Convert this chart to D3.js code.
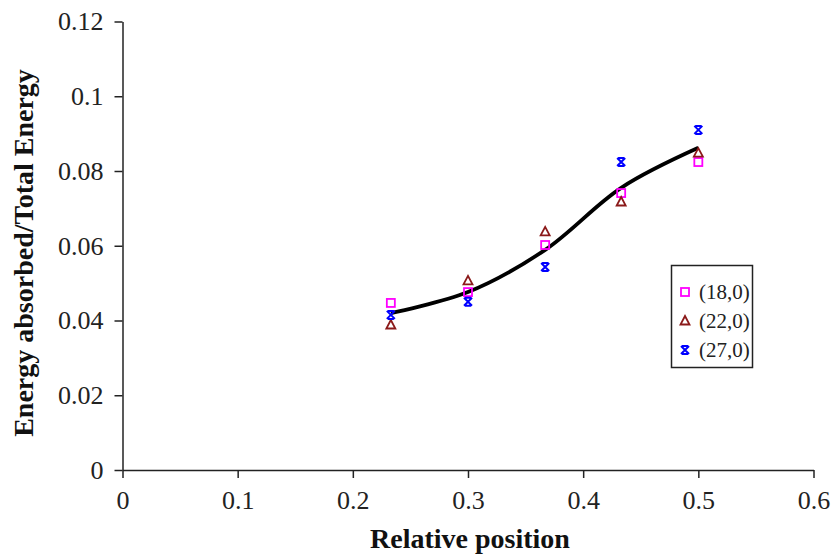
<!DOCTYPE html>
<html><head><meta charset="utf-8">
<script src="https://cdn.jsdelivr.net/npm/d3@7"></script>
<style>body{margin:0;background:#fff}svg{display:block}</style>
</head><body>
<svg id="c" width="835" height="555"></svg>
<script>
const positions = [0.233, 0.3, 0.367, 0.433, 0.5];
const s18 = [0.0447, 0.0476, 0.0602, 0.0741, 0.0824];
const s22 = [0.0388, 0.0506, 0.0637, 0.0717, 0.0848];
const s27 = [0.0415, 0.0450, 0.0543, 0.0824, 0.0910];
const trend = [0.0420, 0.0476, 0.0589, 0.0755, 0.0862];
const xTicks = [0, 0.1, 0.2, 0.3, 0.4, 0.5, 0.6];
const yTicks = [0, 0.02, 0.04, 0.06, 0.08, 0.1, 0.12];
const seriesNames = ["(18,0)", "(22,0)", "(27,0)"];
const seriesColors = ["#ff00ff", "#8b1a1a", "#0000ff"];

const svg = d3.select("#c");
const x = d3.scaleLinear().domain([0, 0.6]).range([122.5, 813.5]);
const y = d3.scaleLinear().domain([0, 0.12]).range([470, 21.5]);
const font = "'Liberation Serif','Times New Roman',serif";

const gx = svg.append("g").attr("transform", "translate(0,470)")
  .call(d3.axisBottom(x).tickValues(xTicks).tickFormat(d => String(d)).tickSize(8).tickSizeOuter(0).tickPadding(13));
const gy = svg.append("g").attr("transform", "translate(122.5,0)")
  .call(d3.axisLeft(y).tickValues(yTicks).tickFormat(d => String(d)).tickSize(8).tickSizeOuter(0).tickPadding(11));
[gx, gy].forEach(g => {
  g.selectAll("path,line").attr("stroke", "#222").attr("stroke-width", 1.5);
  g.selectAll("text").attr("font-family", font).attr("font-size", 26).attr("fill", "#222");
});

svg.append("text").attr("x", 470).attr("y", 548).attr("text-anchor", "middle")
  .attr("font-family", font).attr("font-size", 28).attr("font-weight", "bold").attr("fill", "#111")
  .text("Relative position");
svg.append("text").attr("transform", "translate(33,253) rotate(-90)").attr("text-anchor", "middle")
  .attr("font-family", font).attr("font-size", 28).attr("font-weight", "bold").attr("fill", "#111")
  .text("Energy absorbed/Total Energy");

// trend line
const line = d3.line().x(d => x(d[0])).y(d => y(d[1])).curve(d3.curveCatmullRom.alpha(0.5));
svg.append("path").datum(positions.map((p, i) => [p, trend[i]]))
  .attr("d", line).attr("fill", "none").attr("stroke", "#000").attr("stroke-width", 3.8);

function marker(g, type, color) {
  if (type === 0) {
    g.append("rect").attr("x", -4).attr("y", -4).attr("width", 8).attr("height", 8)
      .attr("fill", "none").attr("stroke", color).attr("stroke-width", 1.8);
  } else if (type === 1) {
    g.append("path").attr("d", "M0,-5L4.5,3.5L-4.5,3.5Z")
      .attr("fill", "none").attr("stroke", color).attr("stroke-width", 1.8);
  } else {
    g.append("path").attr("d", "M-4,-4L4,4M-4,4L4,-4M-3,-4L3,-4M-3,4L3,4")
      .attr("fill", "none").attr("stroke", color).attr("stroke-width", 2);
  }
}

[s18, s22, s27].forEach((vals, si) => {
  vals.forEach((v, i) => {
    const g = svg.append("g").attr("transform", `translate(${x(positions[i])},${y(v)})`);
    marker(g, si, seriesColors[si]);
  });
});

// legend
const lg = svg.append("g");
lg.append("rect").attr("x", 671.5).attr("y", 265.5).attr("width", 81).attr("height", 102)
  .attr("fill", "#fff").attr("stroke", "#222").attr("stroke-width", 1.5);
seriesNames.forEach((n, i) => {
  const cy = 292 + i * 29;
  const g = lg.append("g").attr("transform", `translate(685,${cy})`);
  marker(g, i, seriesColors[i]);
  lg.append("text").attr("x", 699).attr("y", cy).attr("dy", "0.35em")
    .attr("font-family", font).attr("font-size", 21).attr("fill", "#222").text(n);
});
</script>
</body></html>
